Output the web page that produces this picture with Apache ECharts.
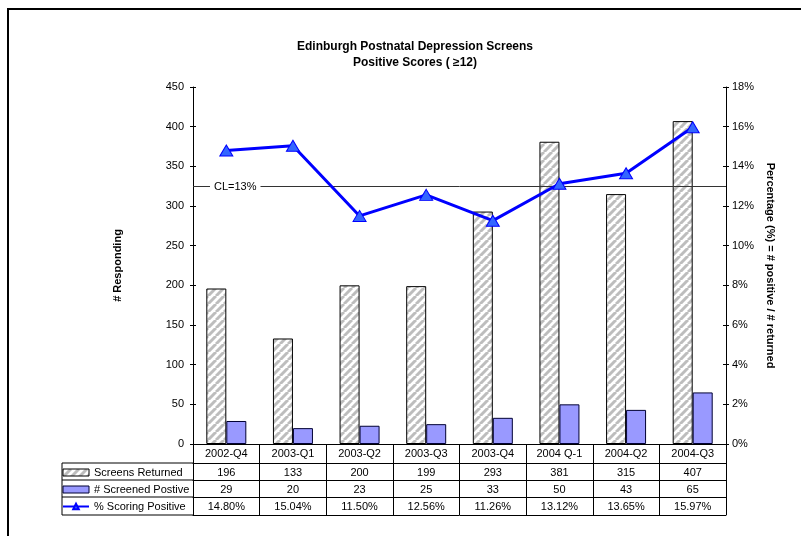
<!DOCTYPE html>
<html>
<head>
<meta charset="utf-8">
<script src="https://cdn.jsdelivr.net/npm/echarts@6/dist/echarts.min.js"></script>
<style>
  html, body { margin: 0; padding: 0; background: #fff; }
  #chart { width: 801px; height: 536px; }
</style>
</head>
<body>
<div id="chart"></div>
<script>
// Quarterly screening data
const categories = ['2002-Q4', '2003-Q1', '2003-Q2', '2003-Q3', '2003-Q4', '2004 Q-1', '2004-Q2', '2004-Q3'];
const screensReturned = [196, 133, 200, 199, 293, 381, 315, 407];
const screenedPositive = [29, 20, 23, 25, 33, 50, 43, 65];
const pctPositive = [14.80, 15.04, 11.50, 12.56, 11.26, 13.12, 13.65, 15.97];
const controlLimit = 13;
const leftTicks = { min: 0, max: 450, interval: 50 };
const rightTicks = { min: 0, max: 18, interval: 2 };
const seriesNames = ['Screens Returned', '# Screened Postive', '% Scoring Positive'];

const FONT = '"Liberation Sans", Arial, sans-serif';

// Diagonal hatch fill for the returned-screens bars
function hatchPattern() {
  const c = document.createElement('canvas');
  c.width = 8; c.height = 8;
  const ctx = c.getContext('2d');
  ctx.fillStyle = '#ffffff';
  ctx.fillRect(0, 0, 8, 8);
  ctx.strokeStyle = '#bdbdbd';
  ctx.lineWidth = 3;
  for (const k of [-8, 0, 8]) {
    ctx.beginPath();
    ctx.moveTo(k, 8);
    ctx.lineTo(k + 8, 0);
    ctx.stroke();
  }
  return c;
}
const hatch = hatchPattern();

const grid = { left: 193, right: 75, top: 87, bottom: 92 };
const rowLines = [463, 480, 497, 515];

// Helper to build the table rows as extra category axes beneath the plot
function tableAxis(offset, tickLen, values) {
  return {
    type: 'category',
    data: categories,
    position: 'bottom',
    offset: offset,
    axisLine: { show: true, onZero: false, lineStyle: { color: '#000', width: 1 } },
    axisTick: { show: tickLen > 0, length: tickLen, interval: 0, lineStyle: { color: '#000' } },
    axisLabel: {
      show: !!values,
      interval: 0,
      margin: 4,
      color: '#000',
      fontFamily: FONT,
      fontSize: 11,
      formatter: (v, i) => values ? values[i] : ''
    },
    splitLine: { show: false }
  };
}

const chart = echarts.init(document.getElementById('chart'), null, { renderer: 'canvas' });

const option = {
  animation: false,
  textStyle: { fontFamily: FONT },
  title: {
    text: 'Edinburgh Postnatal Depression Screens\nPositive Scores ( \u226512)',
    left: 410,
    top: 34,
    textAlign: 'center',
    textStyle: { fontFamily: FONT, fontSize: 12, fontWeight: 'bold', color: '#000', lineHeight: 16 }
  },
  grid: grid,
  legend: {
    orient: 'vertical',
    left: 62,
    top: 464,
    padding: 0,
    itemGap: 0,
    itemWidth: 26,
    itemHeight: 7,
    selectedMode: false,
    data: [
      { name: seriesNames[0], icon: 'rect', itemStyle: { borderWidth: 1, borderColor: '#000' } },
      { name: seriesNames[1], icon: 'rect', itemStyle: { borderWidth: 1, borderColor: '#000033' } },
      { name: seriesNames[2] }
    ],
    textStyle: { fontFamily: FONT, fontSize: 11, color: '#000', lineHeight: 17 }
  },
  xAxis: [
    {
      type: 'category',
      data: categories,
      position: 'bottom',
      axisLine: { show: true, onZero: false, lineStyle: { color: '#000', width: 1 } },
      axisTick: { show: true, length: 19, interval: 0, lineStyle: { color: '#000' } },
      axisLabel: { interval: 0, margin: 4, color: '#000', fontFamily: FONT, fontSize: 11 }
    },
    tableAxis(19, 17, screensReturned.map(String)),
    tableAxis(36, 17, screenedPositive.map(String)),
    tableAxis(53, 18, pctPositive.map(v => v.toFixed(2) + '%')),
    tableAxis(71, 0, null)
  ],
  yAxis: [
    {
      type: 'value',
      position: 'left',
      min: leftTicks.min, max: leftTicks.max, interval: leftTicks.interval,
      name: '# Responding',
      nameLocation: 'middle',
      nameGap: 70,
      nameTextStyle: { fontFamily: FONT, fontSize: 11, fontWeight: 'bold', color: '#000' },
      axisLine: { show: true, lineStyle: { color: '#000', width: 1 } },
      axisTick: { show: true, length: 3, lineStyle: { color: '#000' } },
      axisLabel: { margin: 9, color: '#000', fontFamily: FONT, fontSize: 11 },
      splitLine: { show: false }
    },
    {
      type: 'value',
      position: 'right',
      min: rightTicks.min, max: rightTicks.max, interval: rightTicks.interval,
      name: 'Percentage (%) = # positive / # returned',
      nameLocation: 'middle',
      nameGap: 38,
      nameRotate: -90,
      nameTextStyle: { fontFamily: FONT, fontSize: 11, fontWeight: 'bold', color: '#000' },
      axisLine: { show: true, lineStyle: { color: '#000', width: 1 } },
      axisTick: { show: true, length: 3, lineStyle: { color: '#000' } },
      axisLabel: { margin: 6, color: '#000', fontFamily: FONT, fontSize: 11, formatter: '{value}%' },
      splitLine: { show: false }
    },
    {
      // inner half of the crossing ticks on the left axis
      type: 'value', position: 'left',
      min: leftTicks.min, max: leftTicks.max, interval: leftTicks.interval,
      axisLine: { show: false },
      axisTick: { show: true, inside: true, length: 3, lineStyle: { color: '#000' } },
      axisLabel: { show: false },
      splitLine: { show: false }
    },
    {
      // inner half of the crossing ticks on the right axis
      type: 'value', position: 'right',
      min: rightTicks.min, max: rightTicks.max, interval: rightTicks.interval,
      axisLine: { show: false },
      axisTick: { show: true, inside: true, length: 3, lineStyle: { color: '#000' } },
      axisLabel: { show: false },
      splitLine: { show: false }
    }
  ],
  series: [
    {
      name: seriesNames[0],
      type: 'bar',
      xAxisIndex: 0,
      yAxisIndex: 0,
      data: screensReturned,
      barWidth: 20,
      barGap: '0%',
      itemStyle: {
        color: { image: hatch, repeat: 'repeat' },
        borderColor: '#000',
        borderWidth: 1
      }
    },
    {
      name: seriesNames[1],
      type: 'bar',
      xAxisIndex: 0,
      yAxisIndex: 0,
      data: screenedPositive,
      barWidth: 20,
      barGap: '0%',
      itemStyle: { color: '#9999ff', borderColor: '#000033', borderWidth: 1 }
    },
    {
      name: seriesNames[2],
      type: 'line',
      xAxisIndex: 0,
      yAxisIndex: 1,
      data: pctPositive,
      z: 5,
      lineStyle: { color: '#0000ff', width: 3 },
      symbol: 'triangle',
      symbolSize: [13, 11],
      itemStyle: { color: '#3366ff', borderColor: '#0000ff', borderWidth: 1 },
      markLine: {
        silent: true,
        symbol: 'none',
        lineStyle: { color: '#333', width: 1, type: 'solid' },
        label: {
          show: true,
          position: 'insideStartTop',
          distance: [17, -6],
          formatter: 'CL=' + controlLimit + '%',
          color: '#000',
          fontFamily: FONT,
          fontSize: 11,
          backgroundColor: '#fff',
          padding: [0, 4]
        },
        data: [{ yAxis: controlLimit }]
      }
    }
  ],
  graphic: [
    // page frame
    { type: 'line', shape: { x1: 7, y1: 9, x2: 801, y2: 9 }, style: { stroke: '#000', lineWidth: 2 }, silent: true },
    { type: 'line', shape: { x1: 8, y1: 9, x2: 8, y2: 536 }, style: { stroke: '#000', lineWidth: 2 }, silent: true },
    // label column of the data table
    { type: 'line', shape: { x1: 62, y1: 463, x2: 62, y2: 515 }, style: { stroke: '#000', lineWidth: 1 }, silent: true },
    ...rowLines.map(y => ({
      type: 'line', shape: { x1: 62, y1: y, x2: 193, y2: y }, style: { stroke: '#000', lineWidth: 1 }, silent: true
    }))
  ]
};

chart.setOption(option);
</script>
</body>
</html>
